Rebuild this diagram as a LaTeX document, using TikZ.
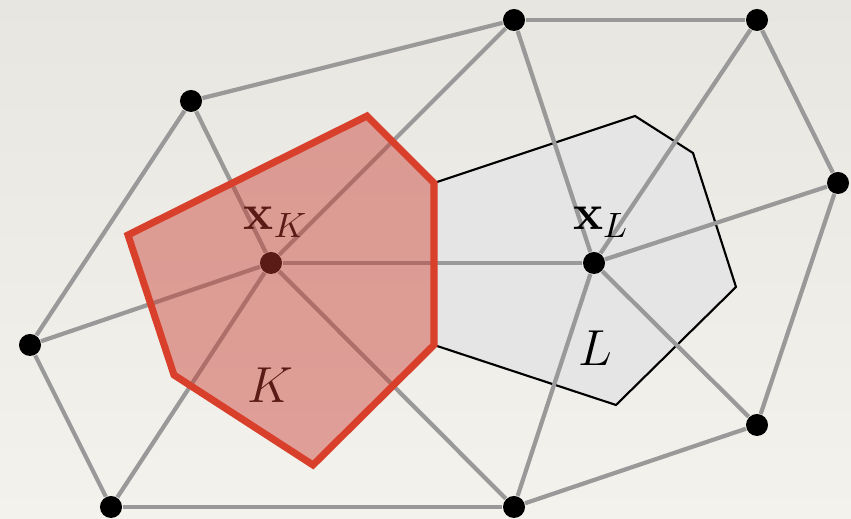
\documentclass[tikz,border=0pt]{standalone}
\usetikzlibrary{backgrounds}
\definecolor{paper}{RGB}{244,242,236}
\definecolor{papertop}{RGB}{232,230,225}
\definecolor{edgegray}{RGB}{153,153,153}
\definecolor{cellgray}{RGB}{229,229,229}
\definecolor{kred}{RGB}{217,64,44}
\definecolor{kfill}{RGB}{200,60,50}
\tikzset{
  vtx/.style={circle, fill=black, inner sep=0pt, minimum size=0.22cm},
  edge/.style={draw=edgegray, line width=1.2pt},
  lbl/.style={font=\Large}
}
\begin{document}
\begin{tikzpicture}[x=0.01cm, y=-0.01cm]
  % 背景与控制体 L
  \begin{scope}[on background layer]
    \shade[top color=papertop, bottom color=paper] (0,0) rectangle (851,519);
    \draw[fill=cellgray, line width=0.6pt] (434,183) -- (635,116) -- (693,153) -- (736,287)
      -- (616,405) -- (434,345) -- cycle;
  \end{scope}
  \useasboundingbox (0,0) rectangle (851,519);

  % 网格顶点
  \node[vtx] (a) at (514,20) {};
  \node[vtx] (b) at (757,20) {};
  \node[vtx] (c) at (191,101) {};
  \node[vtx] (d) at (838,183) {};
  \node[vtx] (xk) at (271,263) {};
  \node[vtx] (xl) at (594,263) {};
  \node[vtx] (e) at (30,345) {};
  \node[vtx] (f) at (757,425) {};
  \node[vtx] (g) at (111,507) {};
  \node[vtx] (h) at (514,507) {};

  % 三角网格
  \foreach \u/\v in {c/a, a/b, c/e, c/xk, a/xk, a/xl, b/xl, b/d, d/xl, d/f,
                     xk/xl, xk/e, xk/g, xk/h, xl/h, xl/f, e/g, g/h, h/f}
    \draw[edge] (\u) -- (\v);

  % 标注
  \node[lbl] (lxk) at (276,222) {$\mathbf{x}_K$};
  \node[lbl] (lxl) at (601,222) {$\mathbf{x}_L$};
  \node[lbl] (lk) at (270,385) {$K$};
  \node[lbl] (ll) at (595,348) {$L$};

  % 控制体 K（半透明覆盖）
  \fill[kfill, fill opacity=0.45] (128,235) -- (367,116) -- (434,183) -- (434,345)
    -- (313,465) -- (174,375) -- cycle;
  \draw[kred, line width=2pt, line join=miter] (128,235) -- (367,116) -- (434,183) -- (434,345)
    -- (313,465) -- (174,375) -- cycle;
\end{tikzpicture}
\end{document}
